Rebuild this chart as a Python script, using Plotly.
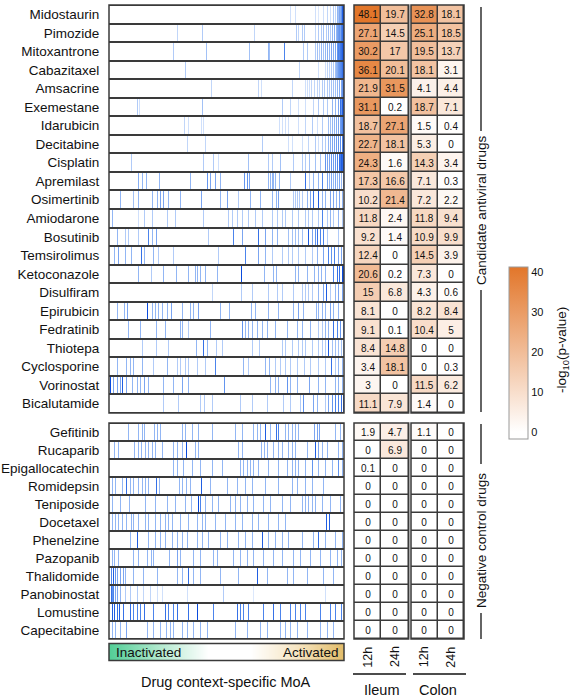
import plotly.graph_objects as go

OFF = 0
FW, FH = 574 - OFF, 700 - OFF
FONT = "Liberation Sans, Arial, Helvetica, sans-serif"

candidate_drugs = ["Midostaurin", "Pimozide", "Mitoxantrone", "Cabazitaxel", "Amsacrine",
                   "Exemestane", "Idarubicin", "Decitabine", "Cisplatin", "Apremilast",
                   "Osimertinib", "Amiodarone", "Bosutinib", "Temsirolimus", "Ketoconazole",
                   "Disulfiram", "Epirubicin", "Fedratinib", "Thiotepa", "Cyclosporine",
                   "Vorinostat", "Bicalutamide"]
control_drugs = ["Gefitinib", "Rucaparib", "Epigallocatechin", "Romidepsin", "Teniposide",
                 "Docetaxel", "Phenelzine", "Pazopanib", "Thalidomide", "Panobinostat",
                 "Lomustine", "Capecitabine"]
timepoints = ["12h", "24h"]
tissues = ["Ileum", "Colon"]

# -log10(p-value), columns 12h, 24h
ileum_candidate = [[48.1, 19.7], [27.1, 14.5], [30.2, 17], [36.1, 20.1], [21.9, 31.5],
                   [31.1, 0.2], [18.7, 27.1], [22.7, 18.1], [24.3, 1.6], [17.3, 16.6],
                   [10.2, 21.4], [11.8, 2.4], [9.2, 1.4], [12.4, 0], [20.6, 0.2],
                   [15, 6.8], [8.1, 0], [9.1, 0.1], [8.4, 14.8], [3.4, 18.1],
                   [3, 0], [11.1, 7.9]]
colon_candidate = [[32.8, 18.1], [25.1, 18.5], [19.5, 13.7], [18.1, 3.1], [4.1, 4.4],
                   [18.7, 7.1], [1.5, 0.4], [5.3, 0], [14.3, 3.4], [7.1, 0.3],
                   [7.2, 2.2], [11.8, 9.4], [10.9, 9.9], [14.5, 3.9], [7.3, 0],
                   [4.3, 0.6], [8.2, 8.4], [10.4, 5], [0, 0], [0, 0.3],
                   [11.5, 6.2], [1.4, 0]]
ileum_control = [[1.9, 4.7], [0, 6.9], [0.1, 0], [0, 0], [0, 0], [0, 0],
                 [0, 0], [0, 0], [0, 0], [0, 0], [0, 0], [0, 0]]
colon_control = [[1.1, 0], [0, 0], [0, 0], [0, 0], [0, 0], [0, 0],
                 [0, 0], [0, 0], [0, 0], [0, 0], [0, 0], [0, 0]]

# context-specific MoA barcode: (gene rank bin, strength) per drug
N_RANK = 235
candidate_moa = [
    [(181,.2),(186,.2),(206,.2),(209,.15),(214,.2),(218,.25),(221,.2),(224,.3),(226,.25),(228,.4),(229,.35),(230,.5),(231,.45),(232,.6),(233,.9),(234,1.0)],
    [(68,.25),(93,.3),(145,.25),(187,.3),(189,.25),(193,.3),(195,.3),(206,.25),(209,.3),(212,.3),(214,.35),(217,.3),(219,.35),(221,.3),(223,.4),(225,.45),(227,.4),(228,.5),(229,.55),(230,.6),(231,.5),(232,.7),(233,.8),(234,.9)],
    [(64,.3),(97,.35),(140,.35),(159,.4),(160,.35),(175,.7),(194,.3),(198,.3),(206,.3),(208,.35),(210,.3),(212,.4),(214,.35),(216,.4),(218,.45),(220,.4),(222,.5),(224,.45),(226,.5),(228,.6),(229,.7),(230,.65),(231,.75),(232,.8),(233,.9),(234,1.0)],
    [(76,.3),(190,.25),(209,.2),(216,.2),(218,.25),(220,.25),(222,.3),(224,.3),(226,.35),(227,.4),(228,.45),(229,.55),(230,.6),(231,.65),(232,.7),(233,.8),(234,.9)],
    [(102,.25),(149,.25),(152,.2),(183,.25),(196,.2),(198,.2),(200,.2),(202,.25),(205,.25),(208,.25),(210,.25),(213,.3),(215,.3),(218,.3),(220,.3),(222,.35),(224,.35),(226,.35),(228,.4),(230,.45),(232,.5),(233,.6),(234,.7)],
    [(28,.3),(30,.2),(93,.35),(173,.3),(181,.25),(189,.2),(196,.2),(204,.25),(209,.3),(214,.3),(218,.3),(223,.4),(226,.4),(229,.5),(231,.8),(232,.6),(233,.9),(234,.8)],
    [(75,.25),(79,.2),(92,.2),(94,.2),(170,.2),(173,.2),(176,.2),(179,.2),(189,.2),(196,.25),(203,.3),(208,.2),(213,.3),(219,.35),(221,.35),(223,.4),(225,.4),(227,.45),(229,.5),(231,.55),(232,.6),(233,.7),(234,.8)],
    [(78,.25),(96,.25),(153,.3),(179,.2),(183,.2),(193,.2),(199,.25),(206,.3),(209,.2),(213,.3),(216,.3),(219,.4),(221,.45),(223,.5),(225,.5),(227,.55),(229,.6),(231,.65),(233,.7),(234,1.0)],
    [(22,.3),(94,.3),(104,.3),(109,.2),(139,.35),(159,.3),(163,.3),(171,.35),(184,.3),(193,.3),(196,.3),(200,.35),(206,.35),(211,.35),(216,.6),(218,.5),(220,.5),(222,.6),(224,.55),(226,.6),(228,.7),(230,.8),(231,.75),(232,.9),(233,.85),(234,1.0)],
    [(29,.45),(33,.4),(37,.4),(50,.4),(81,.4),(98,.6),(101,.5),(106,.5),(111,.4),(135,.6),(138,.6),(140,.5),(159,.4),(161,.4),(163,.4),(164,.4),(166,.4),(170,.4),(181,.3),(196,.8),(200,.3),(204,.4),(209,.4),(213,.7),(218,.5),(220,.4),(222,.5),(224,.4),(226,.5),(228,.4),(230,.5),(232,.4),(234,.5)],
    [(11,.4),(24,.35),(29,.4),(43,.4),(48,.4),(51,.5),(54,.5),(59,.4),(71,.4),(92,.5),(111,.4),(118,.5),(129,.3),(141,.4),(151,.4),(163,.4),(167,.4),(169,.5),(184,.3),(186,.3),(188,.3),(190,.3),(193,.3),(198,.4),(201,.5),(204,.8),(209,.9),(213,.4),(216,.4),(221,.5),(224,.5),(227,.4),(230,.5),(233,.4)],
    [(3,.4),(29,.2),(35,.3),(43,.3),(58,.3),(66,.3),(94,.3),(119,.3),(123,.3),(128,.3),(133,.3),(139,.3),(146,.3),(153,.3),(163,.3),(168,.3),(173,.3),(176,.3),(183,.3),(189,.3),(196,.3),(199,.3),(203,.3),(209,.3),(213,.7),(218,.3),(221,.4),(224,.3),(229,.4),(233,.3)],
    [(8,.4),(16,.3),(19,.3),(29,.3),(39,.7),(43,.4),(47,.5),(99,.3),(124,.7),(133,.5),(149,.8),(156,.5),(163,.4),(168,.4),(179,.35),(183,.35),(186,.35),(189,.35),(193,.35),(199,.9),(203,.5),(206,.6),(208,.8),(211,.7),(214,.7),(218,.3),(229,.3)],
    [(5,.4),(9,.5),(16,.4),(22,.4),(32,.8),(35,.4),(44,.4),(49,.3),(64,.3),(109,.3),(136,.7),(149,.5),(156,.4),(163,.3),(173,.3),(179,.3),(183,.3),(189,.3),(196,.3),(203,.3),(208,.4),(214,.5),(219,.7),(222,.6),(225,.7),(229,.5),(232,.5)],
    [(29,.4),(42,.3),(54,.4),(67,.4),(79,.4),(86,.4),(88,.4),(91,.4),(96,.4),(108,.4),(132,1.0),(155,.4),(164,.4),(167,.4),(186,.4),(189,.4),(198,.4),(205,.4),(209,.4),(212,.4),(216,.4),(224,.7),(228,.8),(230,.8),(233,1.0),(234,.9)],
    [(103,.25),(132,.3),(143,.3),(159,.3),(168,.3),(173,.3),(184,.3),(193,.3),(196,.3),(199,.3),(203,.3),(209,.4),(214,.5),(217,.9),(221,.3),(226,.4),(229,.5),(233,.5)],
    [(8,.4),(15,.4),(18,.5),(38,1.0),(43,.4),(46,.4),(49,.4),(53,.4),(58,.4),(62,.5),(73,.4),(81,.4),(84,.4),(89,.5),(111,.4),(120,.4),(142,.4),(146,.4),(159,.4),(169,.4),(184,.4),(189,.5),(194,.4),(207,.4),(209,.4),(213,.4),(216,.4),(221,.5),(224,.4),(229,.4)],
    [(19,.4),(31,.4),(47,.4),(56,.4),(71,.4),(73,.4),(79,.3),(101,.4),(133,.6),(136,.4),(139,.4),(143,.4),(148,.4),(153,.4),(158,.4),(166,.4),(178,.4),(188,.4),(193,.4),(201,.4),(209,.3),(213,.3),(216,.4),(219,.4),(224,.8),(228,.7),(231,.6),(234,.6)],
    [(33,.3),(47,.3),(59,.3),(87,.4),(94,.8),(98,.4),(107,.3),(113,.3),(143,.3),(150,.3),(173,.3),(176,.3),(183,.3),(189,.3),(193,.3),(196,.3),(203,.3),(209,.3),(213,.3),(216,.3),(219,.9),(223,.35),(226,.35),(229,.35),(232,.35),(234,.35)],
    [(8,.4),(17,.4),(21,.4),(24,.4),(33,.4),(44,.3),(58,.4),(68,.3),(71,.3),(76,.3),(79,.3),(88,.3),(96,.3),(106,.7),(134,.4),(139,.3),(156,.4),(160,.4),(166,.3),(171,.3),(176,.3),(181,.3),(188,.3),(195,.3),(201,.3),(209,.3),(216,.3),(222,.8),(226,.3),(229,.4),(233,.4)],
    [(1,1.0),(4,.5),(8,.5),(11,.5),(13,.9),(17,.5),(23,.4),(28,.4),(31,.4),(35,.5),(39,.4),(54,.4),(64,.4),(73,.5),(79,.4),(115,.6),(161,.4),(166,.4),(169,.4),(178,.6),(181,.4),(188,.4),(200,.5),(209,.4),(216,.4),(226,.4),(229,.4),(233,.4)],
    [(54,.3),(69,.3),(91,.3),(95,.3),(103,.3),(131,.3),(143,.3),(158,.3),(174,.3),(181,.3),(191,.3),(194,.6),(204,.5),(208,.4),(216,.3),(219,.5),(223,.6),(226,.7),(229,.7),(232,.8),(234,.9)],
]
control_moa = [
    [(19,.4),(29,.4),(33,.4),(35,.4),(45,.4),(48,.4),(51,.4),(73,.4),(76,.4),(83,.4),(89,.4),(103,.4),(126,.4),(133,.4),(144,.4),(148,.4),(151,.4),(156,.9),(161,.4),(167,.8),(169,.7),(176,.4),(179,.4),(183,.4),(186,.4),(189,.4),(205,.5),(208,.5),(210,.5),(226,.4),(231,.4)],
    [(5,.4),(9,.4),(25,.4),(29,.4),(32,.4),(36,.4),(39,.4),(43,.4),(46,.4),(53,.4),(64,.4),(68,.4),(73,.4),(77,1.0),(86,.4),(89,.4),(129,.4),(133,.4),(152,.4),(155,.4),(158,.4),(164,.4),(169,.4),(173,.4),(179,.4),(183,.4),(186,.4),(198,.4),(206,.9),(209,.5),(213,.4),(218,.4),(229,.4),(233,.4)],
    [(64,.4),(68,.4),(74,.4),(83,.4),(91,.4),(103,.4),(113,.4),(131,.4),(134,.4),(138,.4),(141,.4),(144,.4),(149,.4),(159,.4),(169,.4),(178,.4),(183,.4),(186,.4),(189,.4),(196,.4),(203,.6),(209,.4),(216,.4),(223,.4),(229,.6),(233,.4)],
    [(3,.4),(6,.4),(13,.4),(17,.8),(21,.4),(24,.4),(29,.4),(33,.4),(36,.4),(39,.4),(47,.8),(50,.4),(70,.4),(73,.4),(77,.4),(81,.4),(92,.9),(101,.4),(118,.4),(128,.4),(136,.4),(143,.4),(156,.4),(169,.4),(183,.4),(188,.4),(196,.4),(203,.4),(214,.4)],
    [(3,.4),(11,.4),(20,.4),(36,.4),(46,.4),(58,.4),(66,.4),(76,.4),(82,.4),(89,1.0),(91,.7),(96,.4),(103,.4),(109,.4),(121,.4),(126,.4),(131,.4),(138,.4),(144,.4),(154,.4),(161,.4),(173,.4),(181,.4),(193,.4),(196,.4),(199,.4),(203,.4),(206,.4),(213,.4),(221,.4),(231,.4)],
    [(3,.4),(6,.4),(9,.4),(13,.4),(17,.4),(22,.4),(24,.4),(29,.4),(36,.4),(39,.4),(46,.4),(51,.4),(56,.4),(59,.4),(63,.4),(71,.4),(79,.4),(88,.4),(93,.4),(96,.4),(106,.4),(116,.4),(126,.4),(133,.4),(143,.4),(149,.4),(159,.4),(169,.4),(176,.4),(217,.9),(220,.9)],
    [(21,.4),(28,.9),(39,.4),(46,.4),(51,.4),(56,.4),(63,.4),(68,.4),(73,.4),(78,.4),(88,.4),(93,.4),(99,.4),(111,.4),(118,.4),(129,.4),(136,.4),(143,.4),(153,.9),(159,.4),(166,.4),(173,.4),(179,.4),(193,.4),(204,.4),(209,.8),(216,.4),(226,.4),(233,.4)],
    [(3,.4),(5,.4),(9,.4),(24,.4),(29,.4),(38,.4),(42,.4),(44,.4),(60,.4),(68,.5),(71,.4),(84,.4),(91,.4),(104,.4),(108,.4),(124,.4),(131,.4),(138,.4),(144,.4),(154,.4),(164,.4),(173,.4),(184,.4),(191,.4),(201,.4),(211,.4),(221,.4),(228,.4),(232,.4)],
    [(2,.7),(4,.9),(6,.6),(8,.5),(11,.5),(14,.5),(16,.4),(24,.4),(34,.4),(48,.4),(68,.4),(73,.4),(79,.8),(84,.4),(91,.4),(111,.4),(129,.4),(148,.9),(158,.4),(178,.4),(184,.4),(198,.4),(214,.4),(224,.4)],
    [(2,.8),(3,.6),(4,.7),(6,.5),(8,.5),(11,.4),(16,.3),(21,.3),(28,.3),(34,.25),(41,.25),(48,.2),(53,.2),(78,.2),(114,.3),(144,.15),(216,.2)],
    [(3,.9),(5,.9),(8,.8),(10,.9),(14,.8),(21,.8),(24,.7),(28,.7),(31,.7),(35,.8),(44,.7),(56,.8),(59,.7),(64,.7),(68,.8),(79,.8),(88,1.0),(104,.7),(128,.8),(131,.7),(134,.7),(139,.7),(154,.7),(164,.8),(171,.7),(181,.7),(186,.7),(191,.7),(196,.7),(211,.7),(221,.7),(226,.7),(232,.7)],
    [(3,.4),(6,.4),(11,.4),(17,.5),(38,.4),(44,.4),(51,.4),(57,.4),(61,.4),(64,.4),(73,.4),(78,.4),(84,.4),(91,.4),(98,.4),(126,.4),(138,.4),(151,.4),(158,.4),(171,.4),(176,.4),(181,.4),(188,.4),(198,.4),(211,.4),(218,.4),(224,.4)],
]
moa_legend = [-1, -0.5, 0, 0.5, 1]
pval_ticks = [0, 10, 20, 30, 40]


def px(x):
    return (x - OFF) / FW


def py(y):
    return 1 - (y - OFF) / FH


def barcode(rows):
    z = []
    for row in rows:
        r = [0.0] * N_RANK
        for p, v in row:
            r[p] = max(r[p], v)
        z.append(r)
    return z


def fmt(v):
    return f"{v:g}"


BLUE = [[0, "#FFFFFF"], [0.2, "#D0E0FB"], [0.4, "#92B6F4"], [0.7, "#4C84EC"], [1, "#0A4BDD"]]
ORANGE = [[0, "#FFFFFF"], [0.042, "#FFFFFF"], [1, "#E2762A"]]
MOA = [[0, "#52CE96"], [0.22, "#B5EAD0"], [0.42, "#FFFFFF"], [0.6, "#FFFFFF"],
       [0.8, "#F6E5C2"], [1, "#E2BC68"]]
ZMIN, ZMAX = -1.8, 41.4
LINE = "#3a3a3a"

fig = go.Figure()

fig.add_trace(go.Heatmap(z=barcode(candidate_moa), x=list(range(N_RANK)),
                         y=list(range(len(candidate_drugs))), xaxis="x", yaxis="y",
                         colorscale=BLUE, zmin=0, zmax=1, showscale=False, ygap=2,
                         hoverinfo="skip"))
fig.add_trace(go.Heatmap(z=barcode(control_moa), x=list(range(N_RANK)),
                         y=list(range(len(control_drugs))), xaxis="x", yaxis="y2",
                         colorscale=BLUE, zmin=0, zmax=1, showscale=False, ygap=2,
                         hoverinfo="skip"))

blocks = [(ileum_candidate, "x2", "y", False), (ileum_control, "x2", "y2", False),
          (colon_candidate, "x3", "y", False), (colon_control, "x3", "y2", True)]
for vals, xa, ya, scale in blocks:
    fig.add_trace(go.Heatmap(
        z=vals, x=[0, 1], y=list(range(len(vals))), xaxis=xa, yaxis=ya,
        text=[[fmt(v) for v in row] for row in vals], texttemplate="%{text}",
        textfont=dict(size=10, color="#111111", family=FONT),
        colorscale=ORANGE, zmin=ZMIN, zmax=ZMAX, xgap=1.5, ygap=1.5,
        hoverinfo="skip", showscale=scale,
        colorbar=dict(x=px(509), xanchor="left", y=py(353), yanchor="middle",
                      len=172 / FH, lenmode="fraction", thickness=19,
                      thicknessmode="pixels", outlinewidth=1, outlinecolor="#999999",
                      tickvals=pval_ticks, ticks="", xpad=0, ypad=0,
                      tickfont=dict(size=11, color="#111111", family=FONT))))

fig.add_trace(go.Heatmap(z=[moa_legend], x=list(range(len(moa_legend))), y=[0],
                         xaxis="x4", yaxis="y3", colorscale=MOA, zmin=-1, zmax=1,
                         zsmooth="best", showscale=False, hoverinfo="skip"))

hidden = dict(visible=False, showgrid=False, zeroline=False)
ylab = dict(showgrid=False, zeroline=False, ticks="outside", ticklen=6,
            tickcolor="rgba(0,0,0,0)", showline=False, automargin=False,
            tickfont=dict(size=13.5, color="#111111", family=FONT))

fig.update_layout(
    width=FW, height=FH, template="none",
    margin=dict(l=0, r=0, t=0, b=0),
    paper_bgcolor="white", plot_bgcolor=LINE,
    font=dict(family=FONT, color="#111111"),
    xaxis=dict(domain=[px(109), px(344)], range=[-0.5, N_RANK - 0.5], anchor="y", **hidden),
    xaxis2=dict(domain=[px(354), px(408.7)], range=[-0.5, 1.5], anchor="y", **hidden),
    xaxis3=dict(domain=[px(411), px(464)], range=[-0.5, 1.5], anchor="y", **hidden),
    xaxis4=dict(domain=[px(109), px(344)], range=[0, len(moa_legend) - 1], anchor="y3", **hidden),
    yaxis=dict(domain=[py(413), py(5)], range=[len(candidate_drugs) - 0.5, -0.5], anchor="x",
               tickvals=list(range(len(candidate_drugs))), ticktext=candidate_drugs, **ylab),
    yaxis2=dict(domain=[py(639), py(423)], range=[len(control_drugs) - 0.5, -0.5], anchor="x",
                tickvals=list(range(len(control_drugs))), ticktext=control_drugs, **ylab),
    yaxis3=dict(domain=[py(660.5), py(643.5)], range=[-0.5, 0.5], anchor="x4", **hidden),
)

shapes = []
for xa, ya in [("x", "y"), ("x", "y2"), ("x2", "y"), ("x2", "y2"),
               ("x3", "y"), ("x3", "y2"), ("x4", "y3")]:
    shapes.append(dict(type="rect", xref=f"{xa} domain", yref=f"{ya} domain",
                       x0=0, x1=1, y0=0, y1=1, line=dict(color=LINE, width=1.5)))
for y0, y1 in [(7, 131), (290, 412), (424, 464), (613, 639)]:
    shapes.append(dict(type="line", xref="paper", yref="paper", x0=px(481), x1=px(481),
                       y0=py(y0), y1=py(y1), line=dict(color="#111111", width=1.3)))
for x0, x1 in [(353, 406), (413, 466)]:
    shapes.append(dict(type="line", xref="paper", yref="paper", x0=px(x0), x1=px(x1),
                       y0=py(674), y1=py(674), line=dict(color="#111111", width=1.3)))
fig.update_layout(shapes=shapes)

ann = []
ann.append(dict(text="Candidate antiviral drugs", x=px(481), y=py(210), textangle=-90,
                font=dict(size=13.5)))
ann.append(dict(text="Negative control drugs", x=px(481), y=py(541), textangle=-90,
                font=dict(size=13.5)))
ann.append(dict(text="-log<sub>10</sub>(p-value)", x=px(562), y=py(350), textangle=-90,
                font=dict(size=13.5)))
for xa in ["x2", "x3"]:
    for i, t in enumerate(timepoints):
        ann.append(dict(text=t, xref=xa, x=i, y=py(657), textangle=-90,
                        font=dict(size=12.5)))
ann.append(dict(text=tissues[0], x=px((354 + 408.7) / 2), y=py(690), font=dict(size=14.5)))
ann.append(dict(text=tissues[1], x=px((411 + 464) / 2), y=py(690), font=dict(size=14.5)))
ann.append(dict(text="Inactivated", x=px(114), xanchor="left", y=py(652), font=dict(size=13.5)))
ann.append(dict(text="Activated", x=px(341), xanchor="right", y=py(652), font=dict(size=13.5)))
ann.append(dict(text="Drug context-specific MoA", x=px(226), y=py(682), font=dict(size=14.5)))
for a in ann:
    a.setdefault("xref", "paper")
    a["yref"] = "paper"
    a.setdefault("xanchor", "center")
    a["yanchor"] = "middle"
    a["showarrow"] = False
    a["font"] = dict(family=FONT, color="#111111", **a["font"])
fig.update_layout(annotations=ann)

# remove the default 8px page margin so the figure starts at the window corner
fig.write_html("out.html", config={"displayModeBar": False},
               post_script="document.body.style.margin='0px';")
